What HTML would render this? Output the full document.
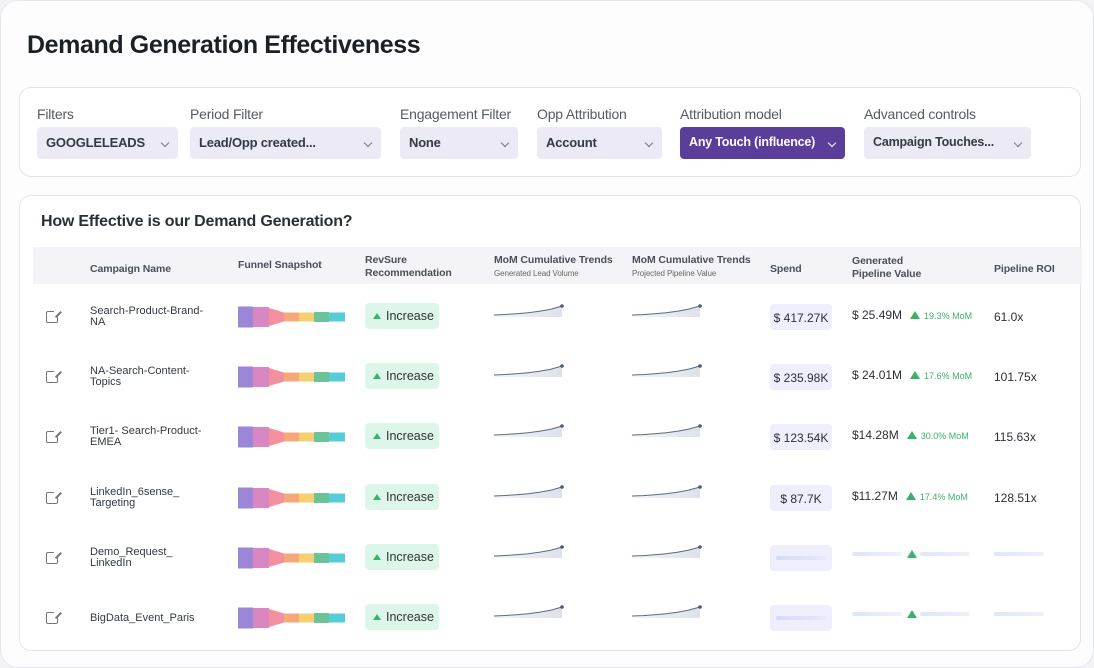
<!DOCTYPE html>
<html><head><meta charset="utf-8">
<style>
*{box-sizing:border-box;margin:0;padding:0}
body{width:1094px;height:668px;background:#f3f3f6;font-family:"Liberation Sans",sans-serif;color:#2a2f3a;position:relative;overflow:hidden}
.frame{position:absolute;left:0;top:0;width:1094px;height:668px;background:#fdfdfe;border-radius:18px;border:1px solid #e6e6ee}
h1{position:absolute;left:27px;top:31px;font-size:25px;font-weight:bold;color:#1c1f26;letter-spacing:-0.4px}
.card{position:absolute;left:19px;width:1062px;background:#fff;border:1px solid #e4e4ec;border-radius:12px}
.flt{position:absolute;top:0}
.flt .lb{position:absolute;top:18px;font-size:14px;color:#555b66;white-space:nowrap;letter-spacing:-0.2px}
.flt .dd{position:absolute;top:39px;height:32px;border-radius:4px;background:#eceaf5;font-size:13px;font-weight:bold;color:#333a45;padding:8px 0 0 9px;white-space:nowrap;letter-spacing:-0.2px}
.dd .ch{position:absolute;right:10px;top:13px;width:6px;height:6px;border-right:1.2px solid #777;border-bottom:1.2px solid #777;transform:rotate(45deg)}
.dd.on{background:#5b3d9a;color:#fff}
.dd.on .ch{border-color:#fff}
.hdr{position:absolute;left:13px;top:51px;width:1049px;height:37px;background:#f4f3f8}
.hc{position:absolute;font-size:10.5px;font-weight:bold;color:#4a4f5a;line-height:13px;white-space:nowrap;letter-spacing:-0.1px}
.hc small{display:block;font-size:8px;font-weight:normal;color:#666}
.cell{position:absolute;font-size:11px;color:#333a45;line-height:11px}
.badge{position:absolute;width:74px;height:26px;background:#dcf7ea;border-radius:4px;font-size:12.5px;color:#333;padding:6px 0 0 8px}
.badge i{display:inline-block;width:0;height:0;border-left:4px solid transparent;border-right:4px solid transparent;border-bottom:6px solid #3ab26c;margin-right:5px;vertical-align:1px}
.spend{position:absolute;left:750px;width:62px;height:26px;background:#eeeefc;border-radius:4px;font-size:12px;color:#2c2f3a;text-align:center;padding-top:7px}
.pv{position:absolute;left:832px;font-size:12px;color:#2c2f3a;white-space:nowrap}
.pv i{display:inline-block;width:0;height:0;border-left:5px solid transparent;border-right:5px solid transparent;border-bottom:8px solid #3ab26c;margin:0 4px 0 8px}
.pv span{font-size:9px;color:#3ab26c}
.roi{position:absolute;left:974px;font-size:12px;color:#2c2f3a}
.sk{position:absolute;height:4px;border-radius:2px;background:linear-gradient(90deg,#dfe5f4,#eef1f9)}
.ic{position:absolute;left:26px;width:12px;height:12px;border:1.6px solid #777;border-radius:2px}
.ic:after{content:"";position:absolute;right:-3px;top:-3px;width:6px;height:6px;background:#fff}
.ic:before{content:"";position:absolute;right:-2px;top:-2px;width:8px;height:1.6px;background:#777;transform-origin:right center;transform:rotate(-45deg) translate(1px,2px);z-index:2}
</style></head><body>
<div class="frame"></div>
<h1>Demand Generation Effectiveness</h1>
<div class="card" style="top:87px;height:90px">
 <div class="flt" style="left:17px"><div class="lb">Filters</div><div class="dd" style="width:141px">GOOGLELEADS<span class="ch"></span></div></div>
 <div class="flt" style="left:170px"><div class="lb">Period Filter</div><div class="dd" style="width:191px">Lead/Opp created...<span class="ch"></span></div></div>
 <div class="flt" style="left:380px"><div class="lb">Engagement Filter</div><div class="dd" style="width:118px">None<span class="ch"></span></div></div>
 <div class="flt" style="left:517px"><div class="lb">Opp Attribution</div><div class="dd" style="width:125px">Account<span class="ch"></span></div></div>
 <div class="flt" style="left:660px"><div class="lb">Attribution model</div><div class="dd on" style="width:165px;font-size:12.5px">Any Touch (influence)<span class="ch"></span></div></div>
 <div class="flt" style="left:844px"><div class="lb">Advanced controls</div><div class="dd" style="width:167px;font-size:12.5px">Campaign Touches...<span class="ch"></span></div></div>
</div>
<div class="card" id="tbl" style="top:195px;height:456px">
 <div style="position:absolute;left:21px;top:17px;font-size:16px;font-weight:bold;color:#2a2f3a;letter-spacing:-0.2px">How Effective is our Demand Generation?</div>
 <div class="hdr"></div>
 <div class="hc" style="left:70px;top:67px">Campaign Name</div>
 <div class="hc" style="left:218px;top:63px">Funnel Snapshot</div>
 <div class="hc" style="left:345px;top:58px">RevSure<br>Recommendation</div>
 <div class="hc" style="left:474px;top:58px">MoM Cumulative Trends<small>Generated Lead Volume</small></div>
 <div class="hc" style="left:612px;top:58px">MoM Cumulative Trends<small>Projected Pipeline Value</small></div>
 <div class="hc" style="left:750px;top:67px">Spend</div>
 <div class="hc" style="left:832px;top:59px">Generated<br>Pipeline Value</div>
 <div class="hc" style="left:974px;top:67px">Pipeline ROI</div>
</div>
<script>
const campaigns=["Search-Product-Brand-<br>NA","NA-Search-Content-<br>Topics","Tier1- Search-Product-<br>EMEA","LinkedIn_6sense_<br>Targeting","Demo_Request_<br>LinkedIn","BigData_Event_Paris"];
const spend=["$ 417.27K","$ 235.98K","$ 123.54K","$ 87.7K",null,null];
const pipeline=["$ 25.49M","$ 24.01M","$14.28M","$11.27M",null,null];
const mom=["19.3% MoM","17.6% MoM","30.0% MoM","17.4% MoM",null,null];
const roi=["61.0x","101.75x","115.63x","128.51x",null,null];
const leadTrend=[1,1.5,2.2,3.2,4.6,6.5,9.5];
const pipeTrend=[1,1.4,2.1,3.0,4.4,6.4,9.3];
const funnelColors=["#9b86d8","#d987c2","#f48fa0","#f4a97a","#f6d070","#6cc39a","#55ccd6"];
const funnelH=[21,20,18,9,9,10,9];
const tbl=document.getElementById('tbl');
const rowY=[121,181,241,302,362,422];
function spark(vals,x0,y0,w,h){
  const max=Math.max(...vals),min=Math.min(...vals);
  const sx=i=>x0+i*w/(vals.length-1), sy=v=>y0+h-(v-min)/(max-min)*h;
  let d=vals.map((v,i)=>(i?'L':'M')+sx(i).toFixed(1)+' '+sy(v).toFixed(1)).join(' ');
  const area=d+` L${x0+w} ${y0+h+2} L${x0} ${y0+h+2} Z`;
  return `<defs><linearGradient id="g" x1="0" x2="1"><stop offset="0" stop-color="#f3f5f8"/><stop offset="1" stop-color="#dde2ea"/></linearGradient></defs><path d="${area}" fill="url(#g)"/><path d="${d}" fill="none" stroke="#5a6a80" stroke-width="1"/><circle cx="${sx(vals.length-1)}" cy="${sy(max)}" r="1.8" fill="#4a5a70"/>`;
}
rowY.forEach((cy,r)=>{
  const row=document.createElement('div');
  
  
  let h=`<div class="ic" style="top:${cy-6}px"></div>`;
  const two=campaigns[r].includes('<br>');
  h+=`<div class="cell" style="left:70px;top:${two?cy-11:cy-5}px">${campaigns[r]}</div>`;
  let fx=218,svg=`<svg style="position:absolute;left:${fx}px;top:${cy-12}px" width="112" height="24">`;
  const segW=[15,16,15,15,15,15,16];let x=0;
  funnelH.forEach((hh,i)=>{const nh=i==2?9:hh;svg+=`<polygon points="${x},${12-hh/2} ${x+segW[i]},${12-nh/2} ${x+segW[i]},${12+nh/2} ${x},${12+hh/2}" fill="${funnelColors[i]}"/>`;x+=segW[i];});
  h+=svg+'</svg>';
  h+=`<div class="badge" style="left:345px;top:${cy-14}px"><i></i>Increase</div>`;
  h+=`<svg style="position:absolute;left:472px;top:${cy-14}px" width="76" height="22">${spark(leadTrend,2,3,68,9)}</svg>`;
  h+=`<svg style="position:absolute;left:610px;top:${cy-14}px" width="76" height="22">${spark(pipeTrend,2,3,68,9)}</svg>`;
  if(spend[r]){
    h+=`<div class="spend" style="top:${cy-13}px">${spend[r]}</div>`;
    h+=`<div class="pv" style="top:${cy-9}px">${pipeline[r]}<i></i><span>${mom[r]}</span></div>`;
    h+=`<div class="roi" style="top:${cy-7}px">${roi[r]}</div>`;
  } else {
    h+=`<div class="spend" style="top:${cy-13}px"><div class="sk" style="left:6px;top:11px;width:50px;background:linear-gradient(90deg,#d6d8fa,#e8e9fb)"></div></div>`;
    h+=`<div class="sk" style="left:832px;top:${cy-6}px;width:50px"></div><div class="pv" style="top:${cy-11}px;left:879px"><i></i></div><div class="sk" style="left:900px;top:${cy-6}px;width:50px"></div>`;
    h+=`<div class="sk" style="left:974px;top:${cy-6}px;width:50px"></div>`;
  }
  row.innerHTML=h;
  tbl.appendChild(row);
});
</script>
</body></html>
